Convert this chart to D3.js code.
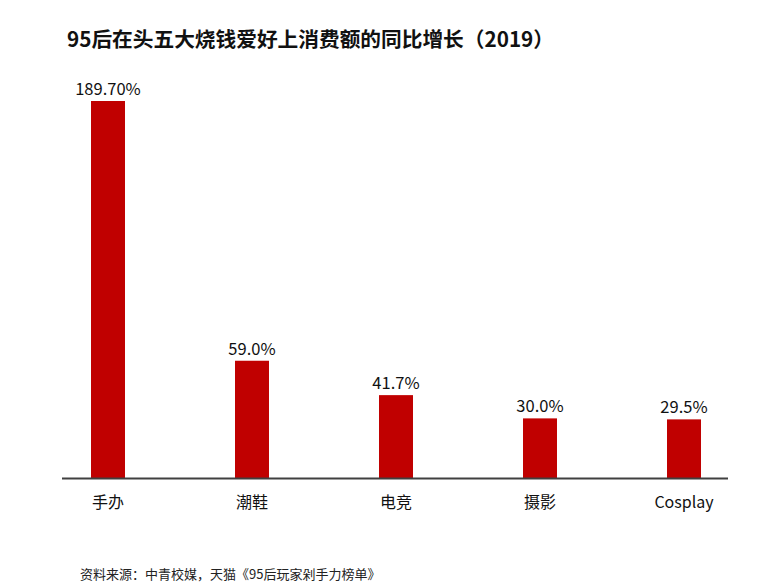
<!DOCTYPE html>
<html><head><meta charset="utf-8">
<script src="https://cdn.jsdelivr.net/npm/d3@7"></script>
<style>body{margin:0;background:#fff;}svg{display:block;font-family:"Noto Sans CJK SC","Noto Sans",sans-serif;}</style>
</head><body>
<svg id="c" width="766" height="586"></svg>
<script>
const categories = ["手办","潮鞋","电竞","摄影","Cosplay"];
const values = [189.7, 59.0, 41.7, 30.0, 29.5];
const valueLabels = ["189.70%","59.0%","41.7%","30.0%","29.5%"];
const title = "95后在头五大烧钱爱好上消费额的同比增长（2019）";
const source = "资料来源：中青校媒，天猫《95后玩家剁手力榜单》";

const svg = d3.select("#c");
const x = d3.scaleBand().domain(categories).range([36, 756]).paddingInner(0.764).paddingOuter(0.382);
const y = d3.scaleLinear().domain([0, 189.7]).range([478, 101]);

svg.append("text").attr("x", 67).attr("y", 47).attr("font-size", 20.7).attr("font-weight", "bold")
  .attr("fill", "#111").text(title);

svg.selectAll("rect.bar").data(values).join("rect").attr("class","bar")
  .attr("x", (d,i)=>x(categories[i])).attr("width", x.bandwidth())
  .attr("y", d=>y(d)).attr("height", d=>y(0)-y(d)).attr("fill", "#c00000");

svg.selectAll("text.val").data(values).join("text").attr("class","val")
  .attr("x", (d,i)=>x(categories[i]) + x.bandwidth()/2).attr("y", d=>y(d)-6)
  .attr("text-anchor","middle").attr("font-size", 16.5).attr("fill","#111")
  .text((d,i)=>valueLabels[i]);

svg.append("line").attr("x1", 62).attr("x2", 728).attr("y1", y(0)+0.5).attr("y2", y(0)+0.5)
  .attr("stroke", "#404040").attr("stroke-width", 2);

svg.selectAll("text.cat").data(categories).join("text").attr("class","cat")
  .attr("x", d=>x(d) + x.bandwidth()/2).attr("y", 508)
  .attr("text-anchor","middle").attr("font-size", 16).attr("fill","#111").text(d=>d);

svg.append("text").attr("x", 80).attr("y", 579).attr("font-size", 13).attr("fill","#222").text(source);
</script>
</body></html>
